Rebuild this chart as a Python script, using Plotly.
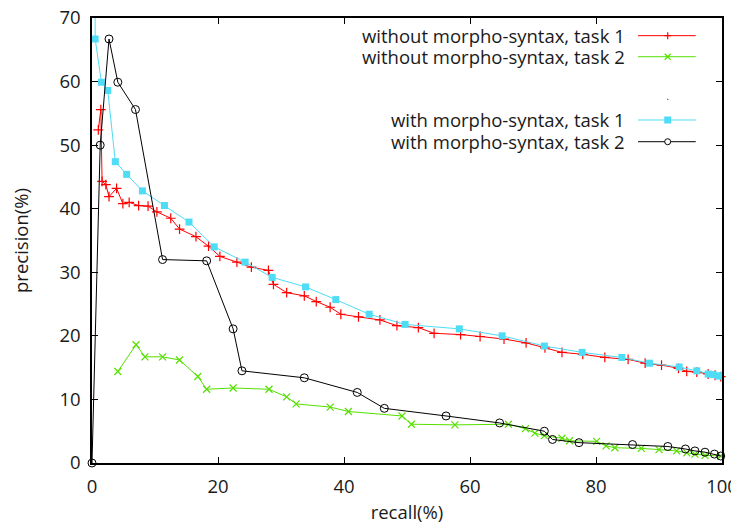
import plotly.graph_objects as go

# without morpho-syntax, task 1
wo1_x = [1.0, 1.4, 1.6, 2.2, 2.7, 3.9, 4.9, 5.9, 7.4, 8.9, 10.3, 12.5, 13.9, 16.5, 18.5, 20.3,
         23.0, 25.3, 28.0, 28.8, 30.9, 33.7, 35.6, 37.8, 39.5, 42.3, 45.7, 48.4, 51.8, 54.3,
         58.5, 61.6, 65.4, 68.9, 71.9, 74.6, 77.9, 81.4, 85.1, 87.8, 90.4, 93.1, 94.4, 96.0,
         97.8, 98.9, 99.8]
wo1_y = [52.4, 55.6, 44.3, 43.8, 41.9, 43.2, 40.8, 41.0, 40.5, 40.4, 39.5, 38.5, 36.8, 35.6,
         34.1, 32.5, 31.6, 30.8, 30.3, 28.1, 26.8, 26.3, 25.4, 24.5, 23.4, 23.0, 22.5, 21.6,
         21.3, 20.4, 20.2, 19.9, 19.5, 18.9, 18.1, 17.4, 17.1, 16.6, 16.3, 15.7, 15.4, 14.9,
         14.4, 14.3, 14.0, 13.8, 13.6]

# without morpho-syntax, task 2
wo2_x = [4.1, 7.0, 8.4, 11.2, 13.9, 16.8, 18.2, 22.4, 28.1, 30.9, 32.4, 37.8, 40.7, 49.2, 50.7,
         57.6, 66.1, 68.8, 70.3, 71.8, 74.6, 75.8, 80.1, 81.6, 83.0, 87.2, 90.0, 92.8, 94.4,
         95.7, 97.3, 99.8]
wo2_y = [14.4, 18.6, 16.7, 16.7, 16.2, 13.6, 11.6, 11.8, 11.6, 10.4, 9.3, 8.8, 8.1, 7.4, 6.1,
         6.0, 6.1, 5.4, 4.7, 4.3, 3.9, 3.5, 3.4, 2.7, 2.4, 2.3, 2.1, 1.9, 1.6, 1.4, 1.2, 1.1]

# with morpho-syntax, task 1
w1_x = [0.5, 0.5, 1.5, 2.5, 3.7, 5.5, 8.0, 11.5, 15.4, 19.4, 24.3, 28.6, 33.9, 38.7, 44.0,
        49.7, 58.3, 65.1, 71.8, 77.8, 84.1, 88.5, 93.2, 96.0, 97.8, 98.6, 99.4, 99.9]
w1_y = [100.0, 66.7, 59.9, 58.6, 47.4, 45.4, 42.8, 40.5, 37.9, 34.0, 31.6, 29.2, 27.7, 25.7,
        23.4, 21.8, 21.1, 20.0, 18.4, 17.4, 16.6, 15.7, 15.1, 14.5, 14.0, 13.9, 13.7, 13.7]

# with morpho-syntax, task 2
w2_x = [0.0, 1.3, 2.7, 4.1, 6.9, 11.2, 18.2, 22.4, 23.8, 33.7, 42.1, 46.4, 56.2, 64.7, 71.8,
        73.1, 77.3, 85.8, 91.4, 94.2, 95.7, 97.3, 98.8, 99.8]
w2_y = [0.0, 50.0, 66.7, 59.9, 55.6, 32.0, 31.8, 21.1, 14.5, 13.4, 11.1, 8.6, 7.4, 6.3, 5.0,
        3.7, 3.2, 2.9, 2.6, 2.2, 1.9, 1.7, 1.4, 1.1]

names = ["without morpho-syntax, task 1", "without morpho-syntax, task 2",
         "with morpho-syntax, task 1", "with morpho-syntax, task 2"]
colors = ["#ff0000", "#55e000", "#4fdcf5", "#000000"]

FONT = "Open Sans"
FSIZE = 18.5
TXT = "#1a1a1a"

fig = go.Figure()
series = [(wo1_x, wo1_y, "cross-thin", 7, 1.2), (wo2_x, wo2_y, "x-thin", 7, 1.2),
          (w1_x, w1_y, "square", 7, 0), (w2_x, w2_y, "circle-open", 8, 1)]
for (xs, ys, sym, sz, lw), nm, col in zip(series, names, colors):
    fig.add_trace(go.Scatter(
        x=xs, y=ys, mode="lines+markers", name=nm, cliponaxis=False,
        line=dict(color=col, width=1),
        marker=dict(symbol=sym, size=sz, color=col, line=dict(color=col, width=lw)),
        showlegend=False))

# the cyan series starts off-scale: keep its markers clipped to the plot area
fig.data[2].update(cliponaxis=True)

# gnuplot-style key
rows = [0.9603, 0.9130, None, 0.7708, 0.7220]
keys = [0, 1, None, 2, 3]
tx, lx0, lx1, mx = 0.8487, 0.8667, 0.9583, 0.9138
for ry, k in zip(rows, keys):
    if k is None:
        continue
    col = colors[k]
    fig.add_annotation(xref="paper", yref="paper", x=tx, y=ry, text=names[k], showarrow=False,
                       xanchor="right", yanchor="middle",
                       font=dict(family=FONT, size=FSIZE, color=TXT))
    fig.add_shape(type="line", xref="paper", yref="paper", x0=lx0, x1=lx1, y0=ry, y1=ry,
                  line=dict(color=col, width=1))
    common = dict(xref="paper", yref="paper", xsizemode="pixel", ysizemode="pixel",
                  xanchor=mx, yanchor=ry)
    if k == 0:
        fig.add_shape(type="path", path="M-3.5,0 L3.5,0 M0,-3.5 L0,3.5", line=dict(color=col, width=1.2), **common)
    elif k == 1:
        fig.add_shape(type="path", path="M-3,-3 L3,3 M-3,3 L3,-3", line=dict(color=col, width=1.2), **common)
    elif k == 2:
        fig.add_shape(type="rect", x0=-3.5, x1=3.5, y0=-3.5, y1=3.5, fillcolor=col,
                      line=dict(color=col, width=0), **common)
    else:
        fig.add_shape(type="circle", x0=-3, x1=3, y0=-3, y1=3, fillcolor="white",
                      line=dict(color=col, width=1), **common)
# the tiny dot of the empty third key entry
fig.add_shape(type="rect", xref="paper", yref="paper", xsizemode="pixel", ysizemode="pixel",
              xanchor=mx, yanchor=0.8173, x0=-0.6, x1=0.6, y0=-0.6, y1=0.6,
              fillcolor="#6040c0", line=dict(width=0))

axis_common = dict(showline=True, linecolor="black", linewidth=1.5, mirror="ticks",
                   ticks="inside", ticklen=6, tickcolor="black", tickwidth=1,
                   showgrid=False, zeroline=False, automargin=False,
                   ticklabeloverflow="allow",
                   tickfont=dict(family=FONT, size=FSIZE, color=TXT))
fig.update_xaxes(range=[0, 100], dtick=20, tick0=0, ticklabelstandoff=6,
                 title=dict(text="recall(%)", font=dict(family=FONT, size=FSIZE, color=TXT),
                            standoff=10),
                 **axis_common)
fig.update_yaxes(range=[0, 70], dtick=10, tick0=0, ticklabelstandoff=6,
                 title=dict(text="precision(%)", font=dict(family=FONT, size=FSIZE, color=TXT),
                            standoff=31),
                 **axis_common)

# the page body has an 8px default margin, so the figure is sized to fit the window
fig.update_layout(width=731, height=516, plot_bgcolor="white", paper_bgcolor="white",
                  margin=dict(l=84, r=17, t=10, b=61))
fig.write_html("out.html")
